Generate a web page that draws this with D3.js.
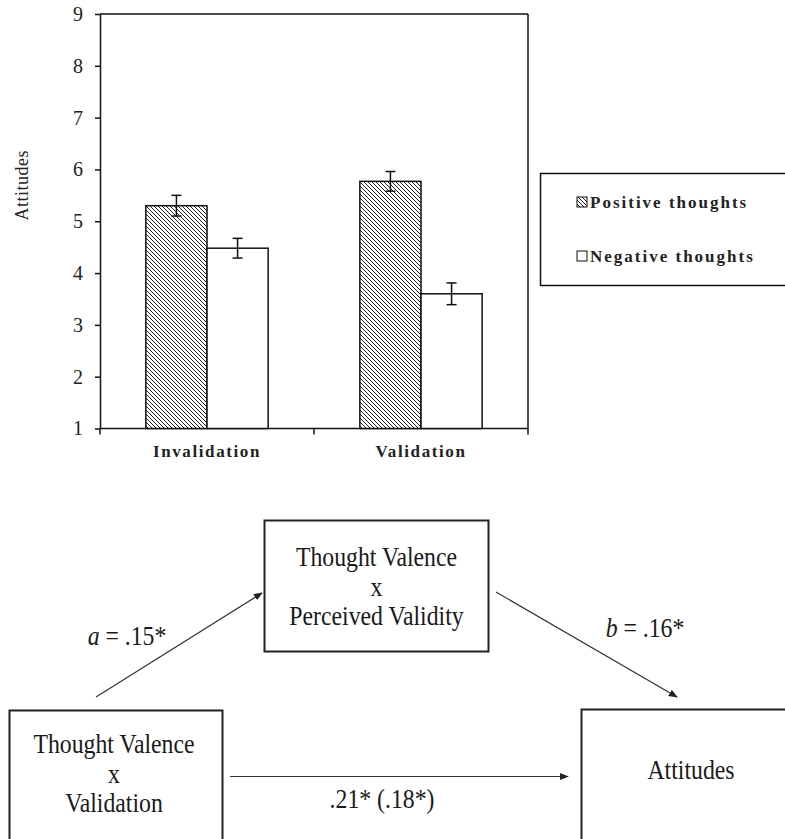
<!DOCTYPE html>
<html>
<head>
<meta charset="utf-8">
<script src="https://cdn.jsdelivr.net/npm/d3@7/dist/d3.min.js"></script>
<style>
  html, body { margin: 0; padding: 0; background: #fff; }
  svg { display: block; }
  svg text { font-family: "Liberation Serif", "Tinos", "Times New Roman", "DejaVu Serif", serif; }
</style>
</head>
<body>
<svg id="fig" width="785" height="839"></svg>
<script>
// ---- Bar chart data: mean attitudes by condition and thought valence ----
const categories = ["Invalidation", "Validation"];
const seriesNames = ["Positive thoughts", "Negative thoughts"];
const positiveMeans = [5.3, 5.77];
const negativeMeans = [4.48, 3.6];
const positiveErrors = [0.2, 0.19];
const negativeErrors = [0.19, 0.21];
const yTicks = [1, 2, 3, 4, 5, 6, 7, 8, 9];
const yLabel = "Attitudes";

// ---- Mediation diagram content ----
const mediatorLines = ["Thought Valence", "x", "Perceived Validity"];
const predictorLines = ["Thought Valence", "x", "Validation"];
const outcomeLines = ["Attitudes"];
const pathA = ".15*";
const pathB = ".16*";
const pathDirect = ".21* (.18*)";

const svg = d3.select("#fig");
const ink = "#111";

// pattern for the positive-thoughts bars: dense "\" hatching
const defs = svg.append("defs");
const hatch = defs.append("pattern")
  .attr("id", "hatch")
  .attr("patternUnits", "userSpaceOnUse")
  .attr("width", 4).attr("height", 4);
hatch.append("rect").attr("width", 4).attr("height", 4).attr("fill", "#fff");
hatch.append("path")
  .attr("d", "M-1,-1 L5,5 M-1,3 L1,5 M3,-1 L5,1")
  .attr("stroke", "#222").attr("stroke-width", 1);

defs.append("marker")
  .attr("id", "arrow")
  .attr("viewBox", "0 0 10 10")
  .attr("refX", 9).attr("refY", 5)
  .attr("markerWidth", 9).attr("markerHeight", 9)
  .attr("markerUnits", "userSpaceOnUse")
  .attr("orient", "auto")
  .append("path").attr("d", "M0,1 L10,5 L0,9 Z").attr("fill", "#222");

// ---- Bar chart ----
const plot = { left: 100, right: 528, top: 14, bottom: 428.5 };

const y = d3.scaleLinear().domain([1, 9]).range([plot.bottom, plot.top]);
const x0 = d3.scaleBand().domain(categories).range([plot.left, plot.right])
  .paddingInner(0).paddingOuter(0);
const x1 = d3.scaleBand().domain(seriesNames).range([0, x0.bandwidth()])
  .paddingInner(0).paddingOuter(0.75);

const rows = categories.map((c, i) => ({
  category: c,
  values: [
    { series: seriesNames[0], mean: positiveMeans[i], err: positiveErrors[i] },
    { series: seriesNames[1], mean: negativeMeans[i], err: negativeErrors[i] }
  ]
}));

const chart = svg.append("g");

// frame: top and right edges
chart.append("line")
  .attr("x1", plot.left).attr("x2", plot.right)
  .attr("y1", plot.top).attr("y2", plot.top)
  .attr("stroke", ink).attr("stroke-width", 1.5);
chart.append("line")
  .attr("x1", plot.right).attr("x2", plot.right)
  .attr("y1", plot.top).attr("y2", plot.bottom)
  .attr("stroke", ink).attr("stroke-width", 1.5);

// y axis
const yAxis = chart.append("g")
  .attr("transform", `translate(${plot.left},0)`)
  .call(d3.axisLeft(y).tickValues(yTicks).tickFormat(d3.format("d"))
    .tickSize(5).tickSizeOuter(0).tickPadding(12));
yAxis.attr("font-family", null);
yAxis.select(".domain").attr("stroke", ink).attr("stroke-width", 1.5);
yAxis.selectAll(".tick line").attr("stroke", ink).attr("stroke-width", 1.5);
yAxis.selectAll(".tick text")
  .attr("font-size", 20).attr("fill", "#222");

// x axis baseline with ticks on the category boundaries
chart.append("line")
  .attr("x1", plot.left).attr("x2", plot.right)
  .attr("y1", plot.bottom).attr("y2", plot.bottom)
  .attr("stroke", ink).attr("stroke-width", 1.5);
const boundaries = categories.map(c => x0(c)).concat([x0(categories[categories.length - 1]) + x0.bandwidth()]);
chart.selectAll(".xtick").data(boundaries).join("line")
  .attr("class", "xtick")
  .attr("x1", d => d).attr("x2", d => d)
  .attr("y1", plot.bottom).attr("y2", plot.bottom + 6)
  .attr("stroke", ink).attr("stroke-width", 1.5);
chart.selectAll(".xlabel").data(categories).join("text")
  .attr("class", "xlabel")
  .attr("x", d => x0(d) + x0.bandwidth() / 2)
  .attr("y", plot.bottom + 28.5)
  .attr("text-anchor", "middle")
  .attr("font-size", 17).attr("font-weight", "bold")
  .attr("letter-spacing", "1.6px")
  .attr("fill", "#222")
  .text(d => d);

// y axis title
chart.append("text")
  .attr("transform", `translate(28,${(plot.top + plot.bottom) / 2 - 36}) rotate(-90)`)
  .attr("text-anchor", "middle")
  .attr("font-size", 18)
  .attr("letter-spacing", "0.5px")
  .attr("fill", "#222")
  .text(yLabel);

// bars
const groups = chart.selectAll(".grp").data(rows).join("g")
  .attr("class", "grp")
  .attr("transform", d => `translate(${x0(d.category)},0)`);

groups.selectAll("rect").data(d => d.values).join("rect")
  .attr("x", d => x1(d.series))
  .attr("y", d => y(d.mean))
  .attr("width", x1.bandwidth())
  .attr("height", d => y(1) - y(d.mean))
  .attr("fill", d => d.series === seriesNames[0] ? "url(#hatch)" : "#fff")
  .attr("stroke", ink).attr("stroke-width", 1.5);

// error bars
const eb = groups.selectAll(".eb").data(d => d.values).join("g").attr("class", "eb")
  .attr("transform", d => `translate(${x1(d.series) + x1.bandwidth() / 2},0)`);
eb.append("line")
  .attr("y1", d => y(d.mean + d.err)).attr("y2", d => y(d.mean - d.err))
  .attr("stroke", ink).attr("stroke-width", 1.5);
eb.append("line")
  .attr("x1", -5).attr("x2", 5)
  .attr("y1", d => y(d.mean + d.err)).attr("y2", d => y(d.mean + d.err))
  .attr("stroke", ink).attr("stroke-width", 1.5);
eb.append("line")
  .attr("x1", -5).attr("x2", 5)
  .attr("y1", d => y(d.mean - d.err)).attr("y2", d => y(d.mean - d.err))
  .attr("stroke", ink).attr("stroke-width", 1.5);

// legend
const legend = svg.append("g");
legend.append("rect")
  .attr("x", 540.5).attr("y", 173.5).attr("width", 250).attr("height", 112)
  .attr("fill", "#fff").attr("stroke", ink).attr("stroke-width", 1.5);
const legendRows = legend.selectAll(".lg").data(seriesNames).join("g")
  .attr("class", "lg")
  .attr("transform", (d, i) => `translate(577,${208 + i * 54})`);
legendRows.append("rect")
  .attr("x", 0).attr("y", -11).attr("width", 10).attr("height", 10)
  .attr("fill", (d, i) => i === 0 ? "url(#hatch)" : "#fff")
  .attr("stroke", ink).attr("stroke-width", 1);
legendRows.append("text")
  .attr("x", 13).attr("y", 0)
  .attr("font-size", 17).attr("font-weight", "bold")
  .attr("letter-spacing", "2px")
  .attr("fill", "#222")
  .text(d => d);

// ---- Mediation diagram ----
// narrow, tall lettering: a larger size squeezed horizontally
const squeeze = 0.88;
const diagramSize = 27;
const diagram = svg.append("g");
const boxes = [
  { lines: mediatorLines, x: 264.5, y: 520.5, w: 224, h: 131, cx: 376.5, base: 566 },
  { lines: predictorLines, x: 9.5, y: 710.5, w: 213, h: 140, cx: 114, base: 753 },
  { lines: outcomeLines, x: 581.5, y: 709.5, w: 230, h: 140, cx: 691, base: 779 }
];
function squeezedText(parent, x, yPos) {
  return parent.append("text")
    .attr("transform", `translate(${x},${yPos}) scale(${squeeze},1)`)
    .attr("text-anchor", "middle")
    .attr("font-size", diagramSize)
    .attr("fill", "#1a1a1a");
}
boxes.forEach(b => {
  diagram.append("rect")
    .attr("x", b.x).attr("y", b.y).attr("width", b.w).attr("height", b.h)
    .attr("fill", "none").attr("stroke", "#222").attr("stroke-width", 2);
  b.lines.forEach((line, i) => {
    squeezedText(diagram, b.cx, b.base + i * 29.5).text(line);
  });
});

const arrows = [
  [96, 697, 262, 593],
  [496, 592, 677, 697],
  [230, 776.5, 568, 776.5]
];
diagram.selectAll(".arr").data(arrows).join("line")
  .attr("class", "arr")
  .attr("x1", d => d[0]).attr("y1", d => d[1])
  .attr("x2", d => d[2]).attr("y2", d => d[3])
  .attr("stroke", "#333").attr("stroke-width", 1.2)
  .attr("marker-end", "url(#arrow)");

const coefA = squeezedText(diagram, 127, 645);
coefA.append("tspan").attr("font-style", "italic").text("a");
coefA.append("tspan").text(" = " + pathA);

const coefB = squeezedText(diagram, 645, 637);
coefB.append("tspan").attr("font-style", "italic").text("b");
coefB.append("tspan").text(" = " + pathB);

squeezedText(diagram, 382, 808).text(pathDirect);
</script>
</body>
</html>
